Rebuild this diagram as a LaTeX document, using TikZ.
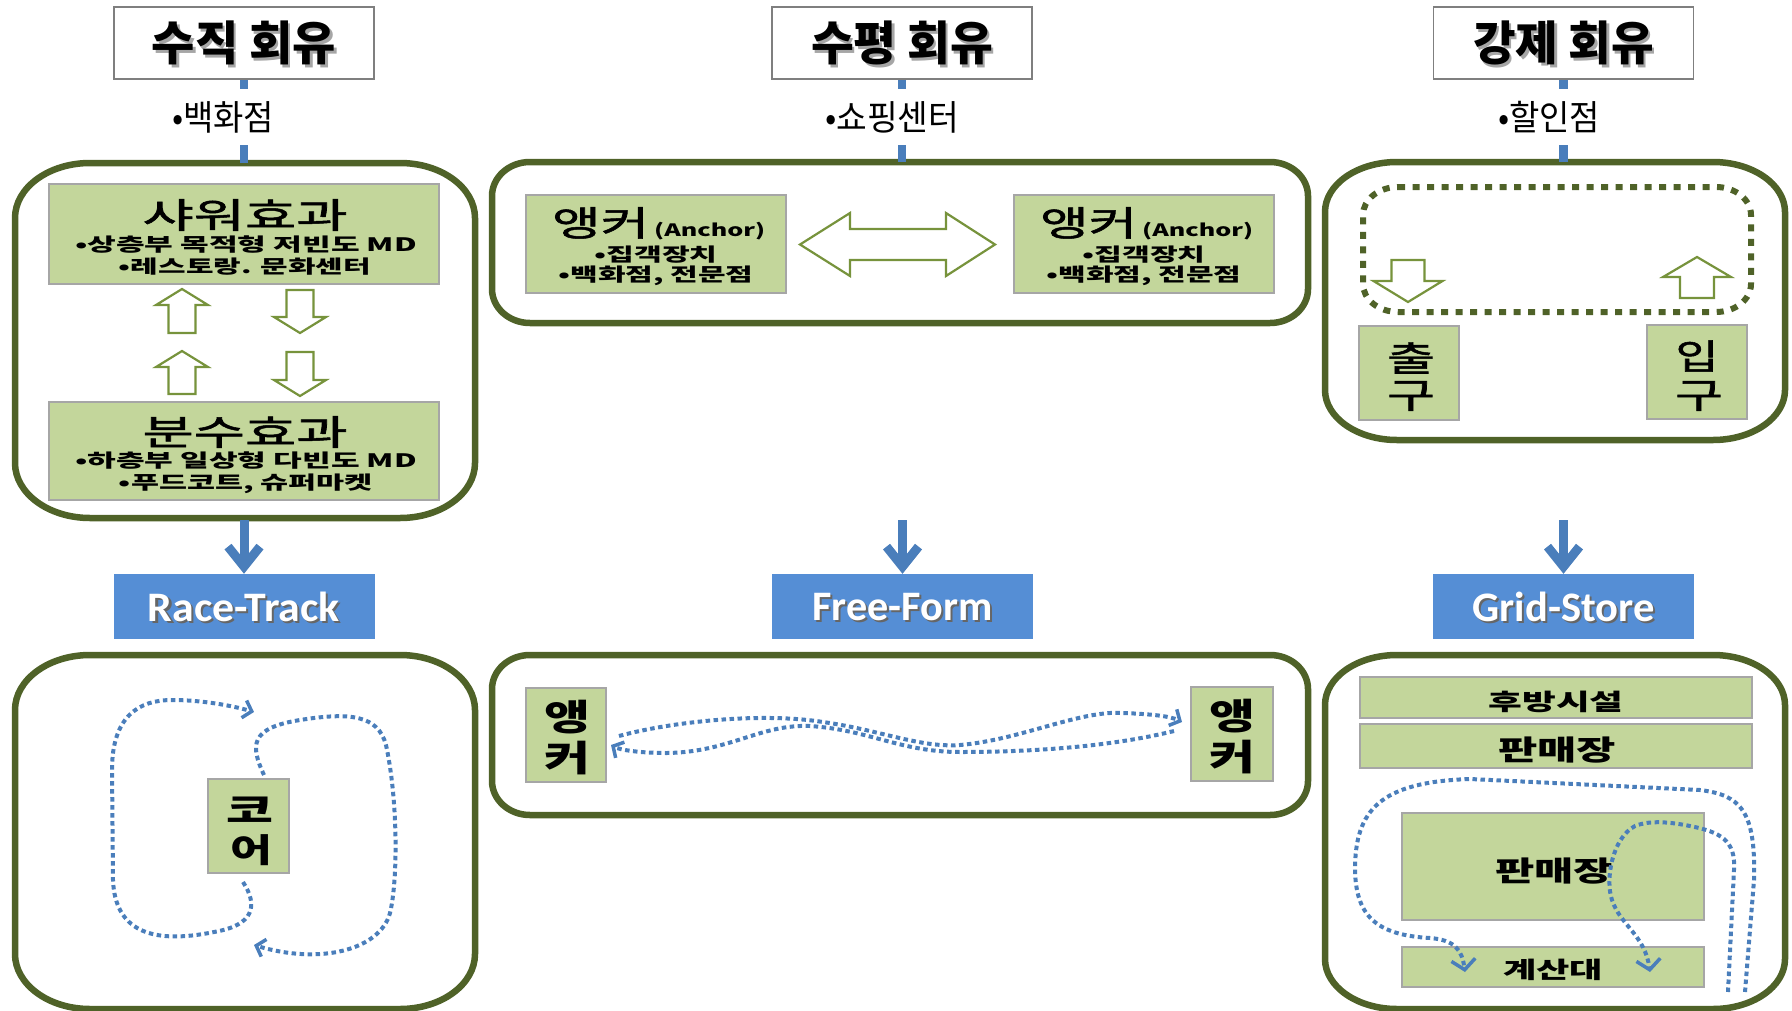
\documentclass[tikz,border=0pt]{standalone}
\usepackage{fontspec}
\usepackage{graphicx}
\usetikzlibrary{arrows.meta}
\setmainfont{Noto Sans CJK KR}
\newfontfamily\medkr[FakeBold=1.4]{Noto Sans CJK KR}
\newfontfamily\lblfont{Carlito}

\definecolor{darkolive}{HTML}{4F6228}
\definecolor{leafgreen}{HTML}{C3D69B}
\definecolor{arrowgreen}{HTML}{77933C}
\definecolor{boxblue}{HTML}{558ED5}
\definecolor{lineblue}{HTML}{4A7EBB}
\definecolor{framegray}{HTML}{7F7F7F}
\definecolor{edgegray}{HTML}{A6A6A6}

% font size helper and horizontal fit of a text to a given width
\newcommand\fsz[1]{\fontsize{#1}{#1}\selectfont}
\newcommand\fitw[2]{\resizebox{#1pt}{\height}{#2}}

% rounded rectangle with elliptic corners: x1 y1 x2 y2 rx ry (y grows downwards)
\def\ovalrect#1#2#3#4#5#6{(#1+#5,#2) -- (#3-#5,#2)
  arc[start angle=270,end angle=360,x radius=#5,y radius=#6] -- (#3,#4-#6)
  arc[start angle=0,end angle=90,x radius=#5,y radius=#6] -- (#1+#5,#4)
  arc[start angle=90,end angle=180,x radius=#5,y radius=#6] -- (#1,#2+#6)
  arc[start angle=180,end angle=270,x radius=#5,y radius=#6] -- cycle}
% block arrows: centre x, top y, bottom y, head base y, half head width, half shaft width
\def\uparr#1#2#3#4#5#6{(#1,#2) -- (#1+#5,#4) -- (#1+#6,#4) -- (#1+#6,#3) -- (#1-#6,#3) -- (#1-#6,#4) -- (#1-#5,#4) -- cycle}
\def\dnarr#1#2#3#4#5#6{(#1,#3) -- (#1+#5,#4) -- (#1+#6,#4) -- (#1+#6,#2) -- (#1-#6,#2) -- (#1-#6,#4) -- (#1-#5,#4) -- cycle}

\tikzset{
  ttlbox/.style={draw=framegray, line width=1.6pt, fill=white, minimum width=260pt, minimum height=72pt, inner sep=0pt},
  ttltext/.style={font=\bfseries\fsz{47}, inner sep=0pt},
  tagtext/.style={fill=white, inner xsep=4pt, inner ysep=12pt, font=\fsz{35}},
  areabox/.style={inner sep=0pt},
  oliveframe/.style={draw=darkolive, line width=6.5pt},
  greenbox/.style={draw=edgegray, line width=2.2pt, fill=leafgreen, inner sep=0pt},
  bluelbl/.style={fill=boxblue, minimum width=261pt, minimum height=65pt, inner sep=0pt},
  lbltext/.style={font=\lblfont\bfseries\fsz{42}, inner sep=0pt},
  dashlink/.style={draw=lineblue, line width=8.5pt},
  bigarrow/.style={draw=lineblue, line width=9pt, -{Straight Barb[length=20pt,width=32pt]}},
  blockarr/.style={draw=arrowgreen, line width=2.2pt, fill=white, line join=miter},
  dotgate/.style={draw=darkolive, line width=6pt, dash pattern=on 7pt off 7.5pt},
  routeline/.style={draw=lineblue, line width=4pt, dash pattern=on 4.5pt off 3.5pt,
    -{Straight Barb[length=8pt,width=18pt,line width=3.5pt]}},
  plain/.style={inner sep=0pt},
}

\begin{document}
\begin{tikzpicture}[x=1pt,y=-1pt]
\useasboundingbox (0,0) rectangle (1792,1010);
\clip (0,0) rectangle (1792,1010);

% ---------- areas ----------
\node[areabox, minimum width=460pt, minimum height=355pt] (b1) at (245,340.5) {};
\node[areabox, minimum width=816pt, minimum height=161pt] (b2) at (900,242.5) {};
\node[areabox, minimum width=460pt, minimum height=278pt] (b3) at (1555,301) {};
\node[areabox, minimum width=460pt, minimum height=354pt] (c1) at (245,832) {};
\node[areabox, minimum width=816pt, minimum height=160pt] (c2) at (900,735) {};
\node[areabox, minimum width=460pt, minimum height=354pt] (c3) at (1555,832) {};

\draw[oliveframe] \ovalrect{15}{163}{475}{518}{75}{55};
\draw[oliveframe] \ovalrect{492}{162}{1308}{323}{38}{34};
\draw[oliveframe] \ovalrect{1325}{162}{1785}{440}{72}{50};
\draw[oliveframe] \ovalrect{15}{655}{475}{1009}{75}{55};
\draw[oliveframe] \ovalrect{492}{655}{1308}{815}{38}{34};
\draw[oliveframe] \ovalrect{1325}{655}{1785}{1009}{72}{50};

% ---------- headings ----------
\node[ttlbox] (t1) at (244,43) {};
\node[ttlbox] (t2) at (902,43) {};
\node[ttlbox] (t3) at (1563.5,43) {};
\node[ttltext, text=black!35] (t1s) at (246.5,45.5) {\fitw{184}{수직 회유}};
\node[ttltext] (t1x) at (244,43) {\fitw{184}{수직 회유}};
\node[ttltext, text=black!35] (t2s) at (904.5,45.5) {\fitw{182}{수평 회유}};
\node[ttltext] (t2x) at (902,43) {\fitw{182}{수평 회유}};
\node[ttltext, text=black!35] (t3s) at (1566,45.5) {\fitw{181}{강제 회유}};
\node[ttltext] (t3x) at (1563.5,43) {\fitw{181}{강제 회유}};

\draw[dashlink] (t1.south) -- (t1.south |- b1.north);
\draw[dashlink] (t2.south) -- (t2.south |- b2.north);
\draw[dashlink] (t3.south) -- (t3.south |- b3.north);
\node[tagtext] (l1) at (223,117) {\fitw{102}{•백화점}};
\node[tagtext] (l2) at (892,117) {\fitw{134}{•쇼핑센터}};
\node[tagtext] (l3) at (1549,117) {\fitw{102}{•할인점}};

% ---------- layout labels ----------
\node[bluelbl] (race) at (244,606.5) {};
\node[bluelbl] (free) at (902.5,606.5) {};
\node[bluelbl] (grid) at (1563.5,606.5) {};
\node[lbltext, text=black!60] (races) at (246,609) {\fitw{192}{Race-Track}};
\node[lbltext, text=white] (racex) at (244,607) {\fitw{192}{Race-Track}};
\node[lbltext, text=black!60] (frees) at (904.5,609) {\fitw{180}{Free-Form}};
\node[lbltext, text=white] (freex) at (902.5,607) {\fitw{180}{Free-Form}};
\node[lbltext, text=black!60] (grids) at (1565.5,609) {\fitw{182}{Grid-Store}};
\node[lbltext, text=white] (gridx) at (1563.5,607) {\fitw{182}{Grid-Store}};

\draw[bigarrow] (race.north |- 0,520) -- (race.north);
\draw[bigarrow] (free.north |- 0,520) -- (free.north);
\draw[bigarrow] (grid.north |- 0,520) -- (grid.north);

% ---------- vertical circulation ----------
\node[greenbox, minimum width=390pt, minimum height=100pt] (shower) at (244,234) {};
\node[greenbox, minimum width=390pt, minimum height=98pt] (fountain) at (244,451) {};
\node[plain, font=\medkr\fsz{35}] (sh1) at (245,215) {\fitw{205}{샤워효과}};
\node[plain, font=\bfseries\fsz{18.5}] (sh2) at (246,244.5) {\fitw{342}{•상층부 목적형 저빈도 MD}};
\node[plain, font=\bfseries\fsz{18.5}] (sh3) at (245,266.5) {\fitw{252}{•레스토랑. 문화센터}};
\node[plain, font=\medkr\fsz{35}] (fo1) at (245,432) {\fitw{205}{분수효과}};
\node[plain, font=\bfseries\fsz{18.5}] (fo2) at (246,460.5) {\fitw{342}{•하층부 일상형 다빈도 MD}};
\node[plain, font=\bfseries\fsz{18.5}] (fo3) at (246,483.5) {\fitw{254}{•푸드코트, 슈퍼마켓}};

\draw[blockarr] \uparr{182}{289}{333}{305}{26}{13.5};
\draw[blockarr] \dnarr{300}{290}{333}{317}{26}{13.5};
\draw[blockarr] \uparr{182}{351}{394}{367}{26}{13.5};
\draw[blockarr] \dnarr{300}{352}{396}{380}{26}{13.5};

% ---------- horizontal circulation ----------
\node[greenbox, minimum width=260pt, minimum height=98pt] (ancL) at (656,244) {};
\node[greenbox, minimum width=260pt, minimum height=98pt] (ancR) at (1144,244) {};
\node[plain, anchor=base west] (ancL1) at (552,236)
  {{\medkr\fsz{35}\fitw{97}{앵커}}\hspace{5pt}{\bfseries\fsz{17}\fitw{111}{(Anchor)}}};
\node[plain, font=\bfseries\fsz{18.5}] (ancL2) at (656,255) {\fitw{123}{•집객장치}};
\node[plain, font=\bfseries\fsz{18.5}] (ancL3) at (656,276) {\fitw{195}{•백화점, 전문점}};
\node[plain, anchor=base west] (ancR1) at (1040,236)
  {{\medkr\fsz{35}\fitw{97}{앵커}}\hspace{5pt}{\bfseries\fsz{17}\fitw{111}{(Anchor)}}};
\node[plain, font=\bfseries\fsz{18.5}] (ancR2) at (1144,255) {\fitw{123}{•집객장치}};
\node[plain, font=\bfseries\fsz{18.5}] (ancR3) at (1144,276) {\fitw{195}{•백화점, 전문점}};

\draw[blockarr] (800,244.5) -- (850,213) -- (850,229) -- (946,229) -- (946,213) -- (995,244.5)
  -- (946,276) -- (946,260) -- (850,260) -- (850,276) -- cycle;

% ---------- forced circulation ----------
\draw[dotgate] \ovalrect{1363}{187}{1751}{312}{35}{28};
\draw[blockarr] \dnarr{1408}{260}{302}{281}{34.5}{16.5};
\draw[blockarr] \uparr{1697}{257}{298}{277}{34}{17};
\node[greenbox, minimum width=100pt, minimum height=94pt] (exit) at (1409,373) {};
\node[greenbox, minimum width=100pt, minimum height=94pt] (entry) at (1697,372) {};
\node[plain, font=\medkr\fsz{35}] (exit1) at (1411,358) {\fitw{48}{출}};
\node[plain, font=\medkr\fsz{35}] (exit2) at (1411,396) {\fitw{48}{구}};
\node[plain, font=\medkr\fsz{35}] (entry1) at (1697,356) {\fitw{43}{입}};
\node[plain, font=\medkr\fsz{35}] (entry2) at (1699,396) {\fitw{48}{구}};

% ---------- race-track plan ----------
\node[greenbox, minimum width=81pt, minimum height=94pt] (core) at (248.5,826) {};
\node[plain, font=\bfseries\fsz{33}] (core1) at (250,810) {\fitw{47}{코}};
\node[plain, font=\bfseries\fsz{33}] (core2) at (251,850) {\fitw{42}{어}};
\draw[routeline] (243,882) .. controls (258,905) and (255,925) .. (214,932)
  .. controls (150,945) and (115,930) .. (113,880) -- (112,770)
  .. controls (112,715) and (140,700) .. (172,700)
  .. controls (200,700) and (230,705) .. (254,712);
\draw[routeline] (264,775) .. controls (250,745) and (250,728) .. (300,720)
  .. controls (350,712) and (378,715) .. (386,745)
  .. controls (398,800) and (398,880) .. (390,913)
  .. controls (380,950) and (320,965) .. (254,945);

% ---------- free-form plan ----------
\node[greenbox, minimum width=80pt, minimum height=94pt] (fancL) at (566,735) {};
\node[greenbox, minimum width=82pt, minimum height=94pt] (fancR) at (1232,734) {};
\node[plain, font=\bfseries\fsz{36}] (fancL1) at (567,717) {\fitw{46}{앵}};
\node[plain, font=\bfseries\fsz{36}] (fancL2) at (567,758) {\fitw{46}{커}};
\node[plain, font=\bfseries\fsz{36}] (fancR1) at (1232,716) {\fitw{46}{앵}};
\node[plain, font=\bfseries\fsz{36}] (fancR2) at (1232,757) {\fitw{46}{커}};
\draw[routeline] (619,736) .. controls (670,722) and (760,712) .. (823,722)
  .. controls (880,730) and (920,748) .. (960,745)
  .. controls (1020,740) and (1080,710) .. (1123,713)
  .. controls (1150,714) and (1170,716) .. (1182,722);
\draw[routeline] (1174,731) .. controls (1130,742) and (1060,752) .. (960,752)
  .. controls (900,752) and (870,730) .. (810,726)
  .. controls (760,724) and (730,752) .. (667,753)
  .. controls (640,753) and (620,750) .. (611,745);

% ---------- grid-store plan ----------
\node[greenbox, minimum width=392pt, minimum height=41pt] (back) at (1556,697.5) {};
\node[greenbox, minimum width=392pt, minimum height=44pt] (salesA) at (1556,746) {};
\node[greenbox, minimum width=302pt, minimum height=107pt] (salesB) at (1553,866.5) {};
\node[greenbox, minimum width=302pt, minimum height=40pt] (till) at (1553,967) {};
\node[plain, font=\bfseries\fsz{23}] (back1) at (1556,702) {\fitw{135}{후방시설}};
\node[plain, font=\bfseries\fsz{28}] (salesA1) at (1557,750) {\fitw{118}{판매장}};
\node[plain, font=\bfseries\fsz{28}] (salesB1) at (1554,871) {\fitw{118}{판매장}};
\node[plain, font=\bfseries\fsz{23}] (till1) at (1553,970) {\fitw{100}{계산대}};
\draw[routeline, -{Straight Barb[length=10pt,width=24pt,line width=3.5pt]}]
  (1745,992) -- (1754,880) .. controls (1756,810) and (1740,795) .. (1700,790)
  -- (1470,779) .. controls (1380,782) and (1355,810) .. (1355,870)
  .. controls (1356,915) and (1375,935) .. (1430,938)
  .. controls (1455,940) and (1462,950) .. (1465,972);
\draw[routeline, -{Straight Barb[length=10pt,width=24pt,line width=3.5pt]}]
  (1728,992) -- (1734,870) .. controls (1736,840) and (1720,832) .. (1690,826)
  .. controls (1670,822) and (1650,820) .. (1635,826)
  .. controls (1612,838) and (1605,880) .. (1612,900)
  .. controls (1620,925) and (1645,935) .. (1650,972);
\end{tikzpicture}
\end{document}
